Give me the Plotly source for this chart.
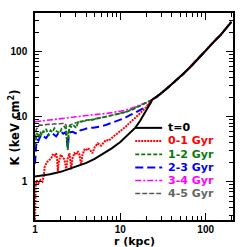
import plotly.graph_objects as go

# shared outer profile (all curves converge beyond ~23 kpc)
r_out = [23.5, 27, 30, 35, 40, 46, 50, 55, 60, 65, 70, 80, 90, 100, 110, 120, 135, 150, 165, 180, 200]
K_out = [18.3, 20.5, 23, 27, 31.5, 37, 41, 46, 52, 57, 63, 76, 91, 108, 121, 135, 160, 183, 212, 240, 290]

r_t0 = [1, 1.5, 2, 3, 4, 5, 6, 8, 10, 13, 15, 17, 18.7, 20, 22.4]
K_t0 = [1.2, 1.3, 1.42, 1.7, 1.95, 2.25, 2.6, 3.3, 4.1, 5.6, 6.8, 8.6, 10.5, 12.3, 16]

r_01 = [1.0, 1.005, 1.02, 1.05, 1.1, 1.16, 1.22, 1.27, 1.3, 1.38, 1.48, 1.55, 1.61, 1.7, 1.77,
        1.82, 1.85, 1.9, 2.0, 2.1, 2.21, 2.28, 2.32, 2.4, 2.53, 2.6, 2.65, 2.75, 2.9, 3.05,
        3.17, 3.3, 3.47, 3.6, 3.79, 3.95, 4.15, 4.4, 4.7, 5.0, 5.43, 5.95, 6.4, 6.8, 7.3,
        7.8, 8.5, 9.3, 10, 10.6, 11.5, 13, 14.5, 16, 18, 20, 22]
K_01 = [0.26, 0.5, 0.9, 1.05, 0.95, 1.06, 1.0, 1.27, 1.7, 2.0, 2.2, 2.3, 2.6, 2.5, 2.75,
        2.2, 1.45, 2.0, 2.6, 2.4, 2.2, 1.8, 1.5, 2.2, 2.75, 2.1, 1.55, 2.3, 2.75, 2.6,
        2.95, 2.7, 1.8, 2.6, 3.1, 3.0, 3.3, 3.1, 2.75, 3.4, 3.9, 3.6, 4.1, 4.4, 4.3,
        4.7, 5.1, 5.6, 6.0, 6.5, 7.0, 8.2, 9.2, 10.5, 12.2, 14, 16.5]

r_12 = [1.0, 1.02, 1.05, 1.1, 1.15, 1.2, 1.25, 1.29, 1.35, 1.45, 1.52, 1.6, 1.69, 1.8, 1.96,
        2.05, 2.21, 2.3, 2.38, 2.42, 2.47, 2.55, 2.65, 2.77, 2.9, 3.03, 3.15, 3.31, 3.5, 3.8,
        4.2, 4.6, 5.0, 5.5, 6.0, 7.0, 8.0, 9.0, 10, 12, 14, 17, 20, 22.4]
K_12 = [3.5, 4.7, 5.6, 4.8, 5.9, 5.2, 6.0, 5.9, 6.5, 5.1, 6.2, 5.8, 6.7, 6.0, 5.6,
        6.6, 7.1, 6.5, 4.5, 3.1, 5.0, 7.3, 7.0, 7.5, 7.2, 6.7, 7.8, 8.5, 8.4, 8.8,
        9.0, 8.9, 9.2, 9.5, 9.6, 10.1, 10.5, 10.9, 11.3, 12.0, 13.0, 14.7, 16.3, 17.5]

r_23 = [1.0, 1.01, 1.03, 1.06, 1.1, 1.18, 1.25, 1.35, 1.45, 1.6, 1.7, 1.77, 1.9, 2.02, 2.15,
        2.28, 2.36, 2.42, 2.48, 2.6, 2.77, 2.95, 3.17, 3.4, 3.62, 4.15, 4.8, 5.95, 7.0, 8.5,
        10, 11.1, 13.1, 14.3, 17.1, 20.5, 22.4]
K_23 = [1.9, 2.6, 3.5, 4.5, 4.3, 5.3, 5.0, 4.7, 5.4, 5.6, 5.2, 5.0, 5.7, 5.9, 5.5,
        5.8, 4.6, 3.3, 4.8, 5.8, 5.9, 5.6, 5.6, 6.2, 6.3, 6.7, 6.8, 7.1, 7.6, 8.3,
        9.0, 9.5, 10.7, 11.2, 12.8, 14.4, 16.2]

r_34 = [1.0, 1.2, 1.5, 2.0, 2.5, 3.0, 3.3, 4.0, 5.0, 6.0, 7.0, 8.5, 10, 11.1, 13, 15, 17, 20, 22.4]
K_34 = [8.4, 8.6, 8.9, 9.3, 9.7, 10.0, 10.2, 10.5, 10.8, 11.0, 11.3, 11.8, 12.2, 12.5, 13.3,
        14.2, 15.2, 16.5, 17.6]

r_45 = [1.0, 1.03, 1.08, 1.13, 1.25, 1.4, 1.55, 1.69, 1.85, 2.0, 2.2, 2.32, 2.38, 2.42, 2.46,
        2.55, 2.65, 2.9, 3.2, 3.79, 4.3, 5.0, 5.95, 7.0, 8.5, 10, 11.1, 13, 15, 17, 20, 22.4]
K_45 = [4.5, 6.3, 7.0, 7.5, 7.4, 7.7, 7.6, 7.8, 7.7, 7.9, 8.0, 7.4, 5.0, 3.1, 5.5,
        7.4, 7.6, 8.0, 8.3, 8.6, 8.9, 9.2, 9.5, 10.0, 10.7, 11.3, 11.7, 12.7, 13.8, 14.9, 16.3, 17.5]

labels = ["t=0", "0-1 Gyr", "1-2 Gyr", "2-3 Gyr", "3-4 Gyr", "4-5 Gyr"]
colors = ["#000000", "#ff0000", "#0a7a0a", "#0000ff", "#ff00ff", "#5a5a5a"]
label_colors = ["#000000", "#ff0000", "#0a7a0a", "#0000ff", "#ff00ff", "#666666"]
dashes = ["solid", "2px,1px", "4px,2px", "8px,4px", "6px,2px,2px,2px", "5px,2px"]
widths = [2, 2, 1.8, 2, 1.6, 1.6]

series = [(r_t0, K_t0), (r_01, K_01), (r_12, K_12), (r_23, K_23), (r_34, K_34), (r_45, K_45)]

fig = go.Figure()
order = [5, 4, 3, 2, 1, 0]
for i in order:
    rr, kk = series[i]
    fig.add_trace(go.Scatter(
        x=list(rr) + r_out, y=list(kk) + K_out, mode="lines",
        line=dict(color=colors[i], width=widths[i], dash=dashes[i]),
        showlegend=False, hoverinfo="skip"))

# manual legend (paper coords)
L, T, B, R = 34.5, 13.3, 220.0, 233.0
W, H = R - L, B - T
def px(x):
    return (x - L) / W
def py(y):
    return (B - y) / H

row_y = [128, 141, 154.5, 167.5, 180.5, 193.5]
shapes = []
annotations = []
for i, yy in enumerate(row_y):
    shapes.append(dict(type="line", xref="paper", yref="paper",
                       x0=px(135), x1=px(162), y0=py(yy), y1=py(yy),
                       line=dict(color=colors[i], width=widths[i], dash=dashes[i])))
    annotations.append(dict(xref="paper", yref="paper", x=px(166), y=py(yy),
                            xanchor="left", yanchor="middle", showarrow=False,
                            text="<b>" + labels[i] + "</b>",
                            font=dict(family="DejaVu Sans", size=11, color=label_colors[i])))

annotations.append(dict(xref="paper", yref="paper", x=0.5, y=py(241),
                        xanchor="center", yanchor="middle", showarrow=False,
                        text="<b>r (kpc)</b>",
                        font=dict(family="DejaVu Sans", size=11, color="black")))
annotations.append(dict(xref="paper", yref="paper", x=px(14), y=py(128),
                        xanchor="center", yanchor="middle", showarrow=False, textangle=-90,
                        text="<b>K (keV cm<sup>2</sup>)</b>",
                        font=dict(family="DejaVu Sans", size=11.5, color="black")))

axis_common = dict(type="log", showline=True, linecolor="black", linewidth=1.5,
                   mirror="allticks", ticks="inside", ticklen=7, tickwidth=1.2,
                   tickcolor="black", showgrid=False, zeroline=False, dtick=1,
                   automargin=False,
                   tickfont=dict(family="Liberation Sans", size=10, color="black", weight="bold"),
                   minor=dict(ticks="inside", ticklen=4, tickwidth=1, tickcolor="black",
                              dtick="D1", showgrid=False))

fig.update_layout(
    width=247, height=247,
    margin=dict(l=L, r=247 - R, t=T, b=247 - B),
    paper_bgcolor="white", plot_bgcolor="white",
    xaxis=dict(range=[0, 2.32], ticklabelstandoff=-1, **axis_common),
    yaxis=dict(range=[-0.59, 2.60], ticklabelstandoff=4, **axis_common),
    shapes=shapes, annotations=annotations, showlegend=False,
)
fig.write_html("out.html", config={"displayModeBar": False},
               post_script="document.body.style.margin='0px';document.body.style.padding='0px';")
